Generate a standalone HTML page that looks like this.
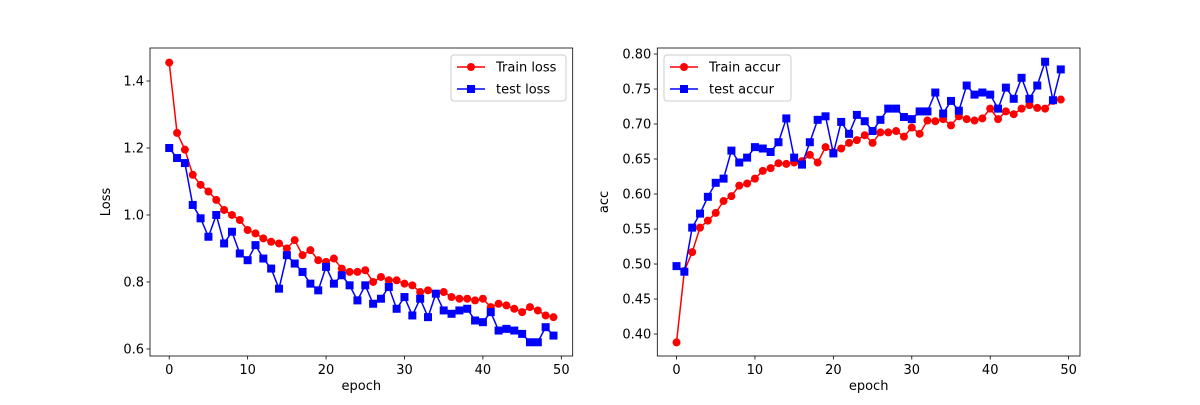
<!DOCTYPE html>
<html><head><meta charset="utf-8"><style>body{margin:0;background:#fff}svg{font-family:"DejaVu Sans","Liberation Sans",sans-serif}</style></head>
<body>
<svg id="c" width="1200" height="400"></svg>
<script>
const epochs = Array.from({length:50},(_,i)=>i);
const trainLoss=[1.455,1.245,1.195,1.12,1.09,1.07,1.045,1.015,1.0,0.985,0.955,0.945,0.93,0.92,0.915,0.9,0.925,0.88,0.895,0.865,0.86,0.87,0.84,0.83,0.83,0.835,0.8,0.815,0.805,0.805,0.795,0.79,0.77,0.775,0.765,0.77,0.755,0.75,0.75,0.745,0.75,0.725,0.735,0.73,0.72,0.71,0.725,0.715,0.7,0.695];
const testLoss=[1.2,1.17,1.155,1.03,0.99,0.935,1.0,0.915,0.95,0.885,0.865,0.91,0.87,0.84,0.78,0.88,0.855,0.83,0.795,0.775,0.845,0.795,0.82,0.79,0.745,0.79,0.735,0.75,0.785,0.72,0.755,0.70,0.75,0.695,0.765,0.715,0.705,0.715,0.72,0.685,0.68,0.71,0.655,0.66,0.655,0.645,0.62,0.62,0.665,0.64];
const trainAcc=[0.388,0.49,0.517,0.552,0.562,0.573,0.590,0.597,0.612,0.615,0.622,0.633,0.637,0.644,0.643,0.645,0.647,0.656,0.645,0.667,0.660,0.665,0.673,0.677,0.684,0.673,0.688,0.688,0.690,0.682,0.695,0.686,0.705,0.704,0.707,0.698,0.711,0.707,0.705,0.708,0.722,0.707,0.718,0.714,0.722,0.727,0.723,0.722,0.733,0.735];
const testAcc=[0.497,0.489,0.552,0.572,0.596,0.616,0.622,0.662,0.645,0.652,0.667,0.665,0.660,0.674,0.708,0.652,0.642,0.674,0.706,0.711,0.658,0.703,0.686,0.713,0.704,0.690,0.706,0.722,0.722,0.710,0.707,0.718,0.718,0.745,0.715,0.733,0.719,0.755,0.742,0.745,0.742,0.722,0.752,0.736,0.766,0.736,0.755,0.789,0.734,0.778];
const xTicks=[0,10,20,30,40,50];
const lossTicks=[0.6,0.8,1.0,1.2,1.4];
const accTicks=[0.40,0.45,0.50,0.55,0.60,0.65,0.70,0.75,0.80];

const NS="http://www.w3.org/2000/svg";
const svg=document.getElementById('c');
function el(t,a,p){const e=document.createElementNS(NS,t);for(const k in a)e.setAttribute(k,a[k]);(p||svg).appendChild(e);return e;}
const FS=13;
function panel(o){
  const g=el('g',{});
  
  
  const X=v=>o.x0+(v-o.xmin)/(o.xmax-o.xmin)*o.w;
  const Y=v=>o.y0+o.h-(v-o.ymin)/(o.ymax-o.ymin)*o.h;
  o.series.forEach(s=>{
    const sg=el('g',{},g);
    
    
    const pts=s.data.map((v,i)=>X(epochs[i]).toFixed(2)+','+Y(v).toFixed(2)).join(' ');
    el('polyline',{points:pts,fill:'none',stroke:s.color,'stroke-width':1.5},sg);
    s.data.forEach((v,i)=>{
      let m;
      if(s.marker==='o') m=el('circle',{cx:X(epochs[i]),cy:Y(v),r:4,fill:s.color},sg);
      else m=el('rect',{x:X(epochs[i])-4,y:Y(v)-4,width:8,height:8,fill:s.color},sg);
      
      
    });
  });
  const fr=el('rect',{x:o.x0,y:o.y0,width:o.w,height:o.h,fill:'none',stroke:'#000','stroke-width':0.8},g);
  
  
  xTicks.forEach(t=>{
    const x=X(t);
    el('line',{x1:x,x2:x,y1:o.y0+o.h,y2:o.y0+o.h+3.5,stroke:'#000','stroke-width':0.8},g);
    const tx=el('text',{x:x,y:o.y0+o.h+18,'text-anchor':'middle','font-size':FS},g);
    tx.textContent=t;
    
    
  });
  o.yticks.forEach(t=>{
    const y=Y(t);
    el('line',{x1:o.x0-3.5,x2:o.x0,y1:y,y2:y,stroke:'#000','stroke-width':0.8},g);
    const tx=el('text',{x:o.x0-6,y:y+4.5,'text-anchor':'end','font-size':FS},g);
    tx.textContent=t.toFixed(o.dec);
    
    
  });
  const xl=el('text',{x:o.x0+o.w/2,y:o.y0+o.h+34,'text-anchor':'middle','font-size':FS},g);
  xl.textContent='epoch';
  
  
  const yl=el('text',{x:0,y:0,'text-anchor':'middle','font-size':FS,transform:`translate(${o.ylx},${o.y0+o.h/2}) rotate(-90)`},g);
  yl.textContent=o.ylabel;
  
  
  const lg=el('g',{},g);
  
  
  el('rect',{x:o.lx,y:o.y0+7,width:o.lw,height:46,rx:3,fill:'#fff','fill-opacity':0.8,stroke:'#ccc'},lg);
  o.series.forEach((s,i)=>{
    const y=o.y0+19+i*22;
    const e=el('g',{},lg);
    
    
    el('line',{x1:o.lx+6,x2:o.lx+34,y1:y,y2:y,stroke:s.color,'stroke-width':1.5},e);
    if(s.marker==='o') el('circle',{cx:o.lx+20,cy:y,r:4,fill:s.color},e);
    else el('rect',{x:o.lx+16,y:y-4,width:8,height:8,fill:s.color},e);
    const t=el('text',{x:o.lx+45,y:y+4.5,'font-size':FS},e);
    t.textContent=s.label;
  });
}
panel({name:'loss-chart',x0:150,y0:48,w:422.7,h:308,xmin:-2.45,xmax:51.45,ymin:0.579,ymax:1.4985,yticks:lossTicks,dec:1,ylabel:'Loss',ylx:110,lx:451,lw:115,
  series:[{name:'train-loss-series',label:'Train loss',data:trainLoss,color:'#ff0000',marker:'o'},{name:'test-loss-series',label:'test loss',data:testLoss,color:'#0000ff',marker:'s'}]});
panel({name:'accuracy-chart',x0:657.3,y0:48,w:422.7,h:308,xmin:-2.45,xmax:51.45,ymin:0.3686,ymax:0.8086,yticks:accTicks,dec:2,ylabel:'acc',ylx:608,lx:664,lw:127,
  series:[{name:'train-accuracy-series',label:'Train accur',data:trainAcc,color:'#ff0000',marker:'o'},{name:'test-accuracy-series',label:'test accur',data:testAcc,color:'#0000ff',marker:'s'}]});
</script>
</body></html>
